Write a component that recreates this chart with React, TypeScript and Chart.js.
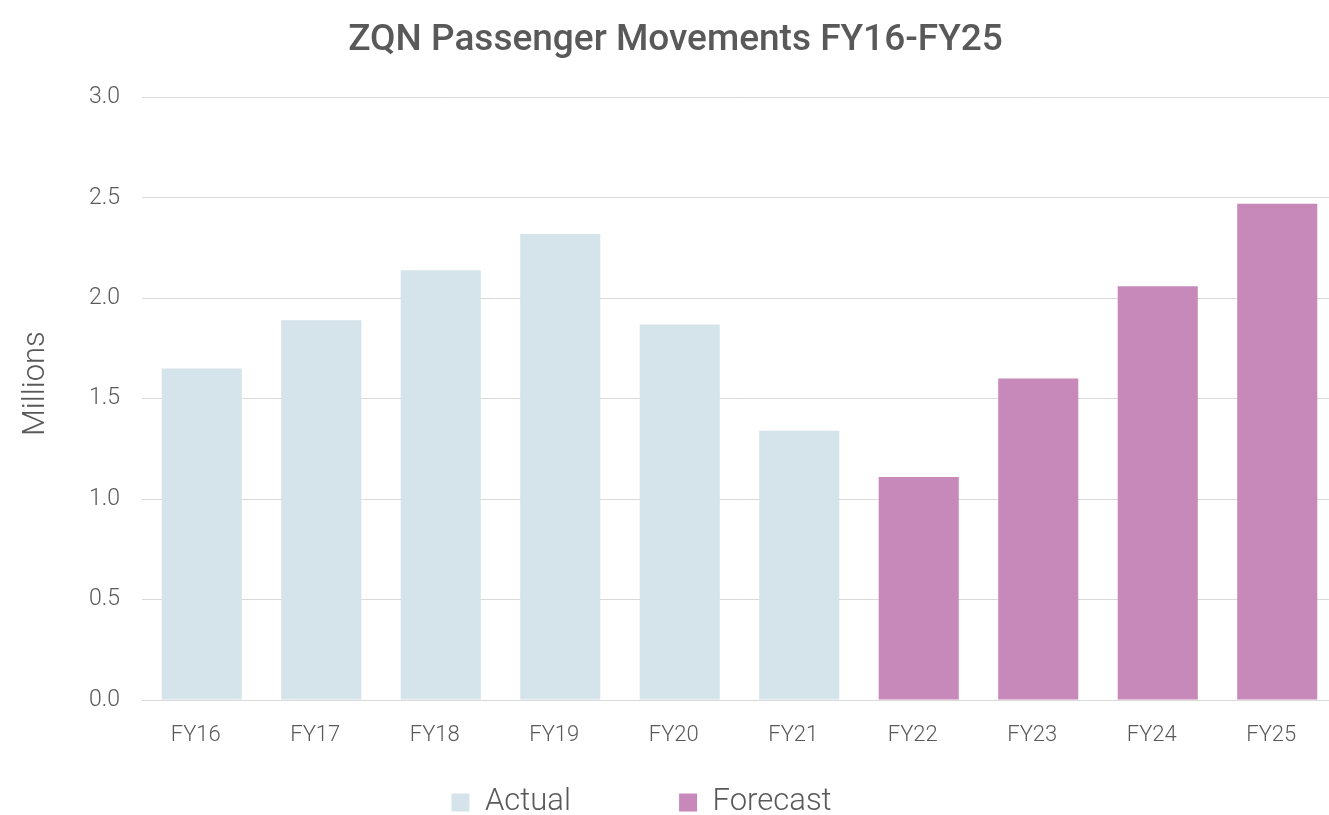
import React, { useEffect, useRef } from "react";
import { Chart, registerables } from "chart.js";

Chart.register(...registerables);

const categories = ["FY16", "FY17", "FY18", "FY19", "FY20", "FY21", "FY22", "FY23", "FY24", "FY25"];
const actualValues = [1.65, 1.89, 2.14, 2.32, 1.87, 1.34];
const forecastValues = [1.11, 1.60, 2.06, 2.47];
const yTicks = [0, 0.5, 1.0, 1.5, 2.0, 2.5, 3.0];

const TEXT = "#595959";
const FONT = "Roboto, 'Open Sans', sans-serif";

const W = 1350;
const H = 828;

export default function App() {
  const ref = useRef<HTMLCanvasElement | null>(null);
  useEffect(() => {
    if (!ref.current) return;
    const actualData = categories.map((_, i) => (i < actualValues.length ? actualValues[i] : null));
    const forecastData = categories.map((_, i) =>
      i >= actualValues.length ? forecastValues[i - actualValues.length] : null
    );
    const chart = new Chart(ref.current, {
      type: "bar",
      data: {
        labels: categories,
        datasets: [
          {
            label: "Actual",
            data: actualData,
            backgroundColor: "#D5E3EA",
            barPercentage: 0.67,
            categoryPercentage: 1,
          },
          {
            label: "Forecast",
            data: forecastData,
            backgroundColor: "#C788BA",
            barPercentage: 0.67,
            categoryPercentage: 1,
          },
        ],
      },
      options: {
        responsive: false,
        animation: false,
        layout: { padding: { left: 14, right: 13, top: 0, bottom: 0 } },
        plugins: {
          title: {
            display: true,
            text: "ZQN Passenger Movements FY16-FY25",
            color: TEXT,
            font: { family: FONT, size: 37, weight: 500 },
            padding: { top: 19, bottom: 34 },
          },
          legend: {
            position: "bottom",
            labels: {
              color: TEXT,
              font: { family: FONT, size: 31, weight: 300 },
              boxWidth: 18,
              boxHeight: 18,
              padding: 10,
              generateLabels: (c) => {
                const items = Chart.defaults.plugins.legend.labels.generateLabels(c);
                items.forEach((it, i) => {
                  if (i === 0) it.text = it.text + "             ";
                  if (i === 1) it.text = it.text + "         ";
                });
                return items;
              },
            },
          },
          tooltip: { enabled: false },
        },
        scales: {
          x: {
            stacked: true,
            grid: { display: false },
            border: { color: "#D9D9D9", width: 1 },
            ticks: {
              color: TEXT,
              font: { family: FONT, size: 22, weight: 300 },
              padding: 14,
              labelOffset: -6,
            },
            afterFit: (s: any) => {
              s.height = 77;
            },
          },
          y: {
            stacked: true,
            min: 0,
            max: 3,
            afterBuildTicks: (s: any) => {
              s.ticks = yTicks.map((v) => ({ value: v }));
            },
            grid: { color: "#D9D9D9", lineWidth: 1, drawTicks: false },
            border: { display: false },
            ticks: {
              color: TEXT,
              font: { family: FONT, size: 23, weight: 300 },
              padding: 22,
              callback: (v: any) => Number(v).toFixed(1),
            },
            title: {
              display: true,
              text: "    Millions",
              color: TEXT,
              font: { family: FONT, size: 31, weight: 300 },
              padding: { top: 4, bottom: 0 },
            },
            afterFit: (s: any) => {
              s.width = 128;
            },
          },
        },
      },
    });
    return () => chart.destroy();
  }, []);
  return (
    <div style={{ position: "fixed", left: 0, top: 0, width: W, height: H, background: "#fff" }}>
      <canvas ref={ref} width={W} height={H} style={{ width: W, height: H }} />
    </div>
  );
}
